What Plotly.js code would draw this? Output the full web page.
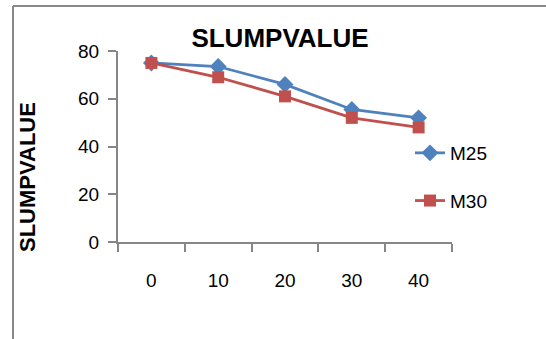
<!DOCTYPE html>
<html><head><meta charset="utf-8">
<script src="https://cdn.plot.ly/plotly-3.0.1.min.js"></script>
<style>html,body{margin:0;padding:0;background:#fff}</style>
</head><body>
<div id="chart" style="width:546px;height:339px"></div>
<script>
const categories = ["0", "10", "20", "30", "40"];
const m25 = [75, 73.5, 66, 55.5, 52];
const m30 = [75, 69, 61, 52, 48];
const seriesNames = ["M25", "M30"];
const chartTitle = "SLUMPVALUE";
const yTitle = "SLUMPVALUE";

const W = 546, H = 339, L = 118, R = 94, T = 51, B = 97;
const pw = W - L - R, ph = H - T - B;
const px = v => (v - L) / pw;
const py = v => (H - B - v) / ph;
const font = "Liberation Sans, Arial, sans-serif";
const axisCol = "#868686";

const traces = [
  {x: categories, y: m25, name: seriesNames[0], type: "scatter", mode: "lines+markers",
   line: {color: "#4F81BD", width: 2.8}, marker: {symbol: "diamond", size: 13, color: "#4F81BD"},
   legendgroup: "a"},
  {x: categories, y: m30, name: seriesNames[1], type: "scatter", mode: "lines+markers",
   line: {color: "#C0504D", width: 2.8}, marker: {symbol: "square", size: 12, color: "#C0504D"},
   legendgroup: "b"}
];

const layout = {
  width: W, height: H,
  margin: {l: L, r: R, t: T, b: B},
  paper_bgcolor: "#fff", plot_bgcolor: "#fff",
  font: {family: font, size: 19, color: "#000"},
  title: {text: "<b>" + chartTitle + "</b>", font: {family: font, size: 26, color: "#000"},
          x: 280 / W, xref: "container", xanchor: "center", y: 1 - 38 / H, yanchor: "middle"},
  xaxis: {type: "category", range: [-0.5, 4.5], tickson: "boundaries", ticks: "outside",
          ticklen: 8, tickwidth: 2, tickcolor: axisCol, showline: true, linecolor: axisCol,
          linewidth: 2, showgrid: false, zeroline: false, ticklabelstandoff: 20,
          tickfont: {family: font, size: 19}},
  yaxis: {range: [0, 80], dtick: 20, ticks: "outside", ticklen: 8, tickwidth: 2,
          tickcolor: axisCol, showline: true, linecolor: axisCol, linewidth: 2,
          showgrid: false, zeroline: false, ticklabelstandoff: 5,
          tickfont: {family: font, size: 19}},
  showlegend: true,
  legend: {x: px(410), y: py(134), xanchor: "left", yanchor: "top",
           font: {family: font, size: 19}, tracegroupgap: 20, bgcolor: "rgba(0,0,0,0)"},
  annotations: [{text: "<b>" + yTitle + "</b>", textangle: -90, xref: "paper", yref: "paper",
                 x: px(27), y: py(177), xanchor: "center", yanchor: "middle", showarrow: false,
                 font: {family: font, size: 22, color: "#000"}}],
  shapes: [
    {type: "line", xref: "paper", yref: "paper", x0: px(13), x1: px(W + 5), y0: py(6), y1: py(6),
     line: {color: "#888", width: 2}},
    {type: "line", xref: "paper", yref: "paper", x0: px(13), x1: px(13), y0: py(6), y1: py(H + 5),
     line: {color: "#888", width: 2}}
  ]
};

Plotly.newPlot("chart", traces, layout, {displayModeBar: false, staticPlot: true});
</script>
</body></html>
